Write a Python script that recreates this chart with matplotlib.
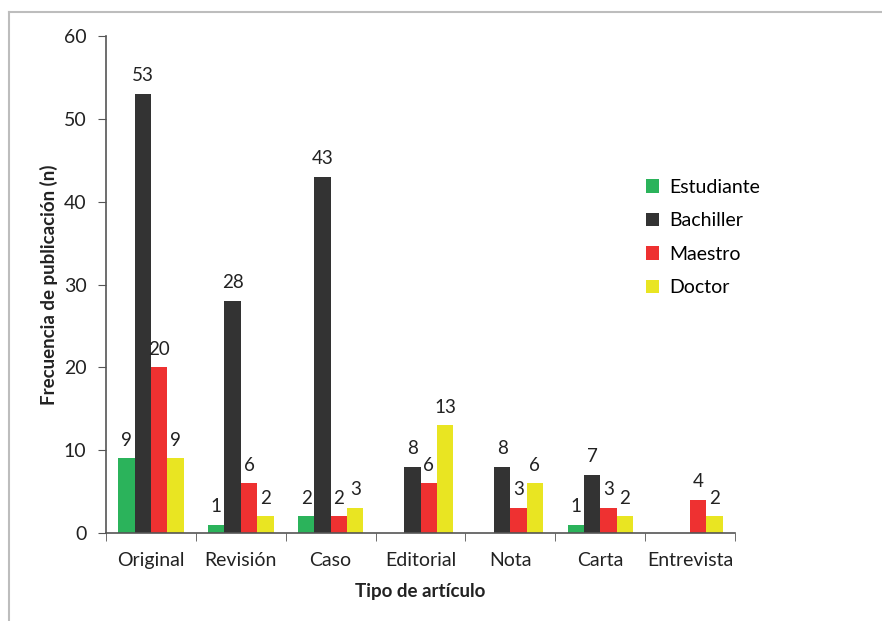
import numpy as np
import matplotlib
matplotlib.use("Agg")
import matplotlib.pyplot as plt
from matplotlib.lines import Line2D

categories = ["Original", "Revisión", "Caso", "Editorial", "Nota", "Carta", "Entrevista"]
series_names = ["Estudiante", "Bachiller", "Maestro", "Doctor"]
estudiante = [9, 1, 2, np.nan, np.nan, 1, np.nan]
bachiller = [53, 28, 43, 8, 8, 7, np.nan]
maestro = [20, 6, 2, 6, 3, 3, 4]
doctor = [9, 2, 3, 13, 6, 2, 2]
colors = ["#2bb35b", "#333333", "#ee3131", "#e9e522"]

plt.rcParams['font.family'] = ['Lato', 'DejaVu Sans']

fig = plt.figure(figsize=(8.82, 6.21), dpi=100)
ax = fig.add_axes([0.1202, 0.1417, 0.7132, 0.8003])

# outer border lines
fig.add_artist(Line2D([9/882, 9/882], [0, 1 - 12/621], transform=fig.transFigure, color="#bdbdbd", lw=1.5))
fig.add_artist(Line2D([9/882, 1], [1 - 12/621, 1 - 12/621], transform=fig.transFigure, color="#bdbdbd", lw=1.5))

x = np.arange(len(categories))
w = 0.182
data = [estudiante, bachiller, maestro, doctor]
for i, (vals, name, c) in enumerate(zip(data, series_names, colors)):
    pos = x + (i - 1.5) * w
    v = np.array(vals, dtype=float)
    ax.bar(pos, np.nan_to_num(v), width=w, color=c, label=name, linewidth=0)
    for p, val in zip(pos, v):
        if not np.isnan(val):
            ax.annotate(f"{int(val)}", (p, val), xytext=(0, 7), textcoords="offset points",
                        ha="center", va="bottom", fontsize=13.5, color="#222222")

ax.set_xlim(-0.5, len(categories) - 0.5)
ax.set_ylim(0, 60)
ax.set_yticks(np.arange(0, 61, 10))
ax.set_xticks(x)
ax.set_xticklabels(categories, fontsize=14, color="#222222")
ax.tick_params(axis="x", which="major", length=0, pad=14)
ax.set_xticks(np.arange(-0.5, len(categories), 1), minor=True)
ax.tick_params(axis="x", which="minor", length=6, color="#555555", direction="out")
ax.tick_params(axis="y", length=6, color="#555555", labelsize=14, labelcolor="#222222", pad=8)

for s in ["top", "right"]:
    ax.spines[s].set_visible(False)
for s in ["left", "bottom"]:
    ax.spines[s].set_color("#555555")
    ax.spines[s].set_linewidth(1.2)

ax.set_ylabel("Frecuencia de publicación (n)", fontsize=13.5, fontweight="bold", labelpad=4, color="#222222")
ax.set_xlabel("Tipo de artículo", fontsize=13.5, fontweight="bold", labelpad=10, color="#222222")

leg = ax.legend(loc="upper left", bbox_to_anchor=(0.83, 0.748), frameon=False, fontsize=14,
                handlelength=0.7, handleheight=0.7, handletextpad=0.5, labelspacing=0.85)

fig.savefig("out.png", dpi=100)
